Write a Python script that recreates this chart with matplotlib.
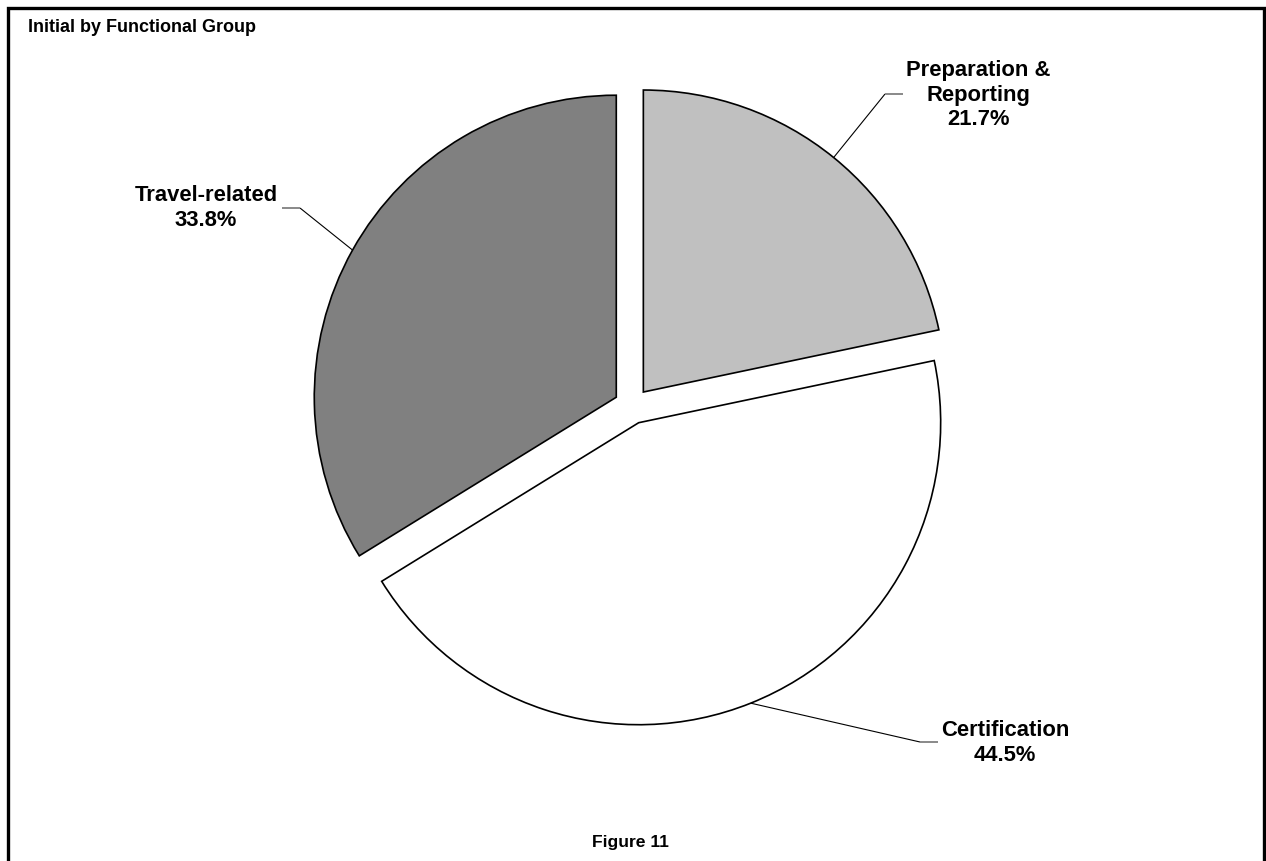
import numpy as np
import matplotlib
matplotlib.use("Agg")
import matplotlib.pyplot as plt

# Data
categories = ["Preparation &\nReporting", "Certification", "Travel-related"]
shares = [21.7, 44.5, 33.8]
colors = ["#C0C0C0", "#FFFFFF", "#808080"]

W, H = 1266, 861
plt.rcParams["font.family"] = ["Liberation Sans", "DejaVu Sans"]

fig = plt.figure(figsize=(W / 100, H / 100), dpi=100)
ax = fig.add_axes([0, 0, 1, 1])

# pixel-style coordinates (y measured from the top)
def py(y):
    return H - y

center = (632, py(406))
radius = 302
gap = 18

wedges, _ = ax.pie(
    shares, colors=colors, startangle=90, counterclock=False,
    center=center, radius=radius, explode=[gap] * len(shares),
    wedgeprops=dict(edgecolor="black", linewidth=1.2),
)

ax.set_xlim(0, W)
ax.set_ylim(0, H)
ax.set_aspect("equal")
ax.axis("off")

# label positions (text centre) and leader-line elbows
label_xy = [(978, 95), (1005, 743), (206, 208)]
elbows = [(885, 94), (920, 742), (300, 208)]
stub_end = [(903, 94), (938, 742), (282, 208)]

for w, name, val, (lx, ly), (ex, ey), (sx, sy) in zip(
        wedges, categories, shares, label_xy, elbows, stub_end):
    mid = np.deg2rad(0.5 * (w.theta1 + w.theta2))
    cx, cy = w.center
    ax0 = cx + w.r * np.cos(mid)
    ay0 = cy + w.r * np.sin(mid)
    ax.plot([ax0, ex], [ay0, py(ey)], color="black", lw=0.8, solid_capstyle="butt")
    ax.plot([ex, sx], [py(ey), py(sy)], color="#808080", lw=1.3, solid_capstyle="butt")
    ax.text(lx, py(ly), f"{name}\n{val:.1f}%", ha="center", va="center",
            fontsize=15.8, fontweight="bold", linespacing=1.22)

# title and caption
ax.text(28, py(27), "Initial by Functional Group", ha="left", va="center",
        fontsize=13, fontweight="bold")
ax.text(630, py(843), "Figure 11", ha="center", va="center",
        fontsize=12.6, fontweight="bold")

# frame around the chart
ax.plot([8, 8, 1264, 1264], [py(H + 10), py(8), py(8), py(H + 10)],
        color="black", lw=2.4, solid_joinstyle="miter", clip_on=False)

fig.savefig("out.png", dpi=100)
